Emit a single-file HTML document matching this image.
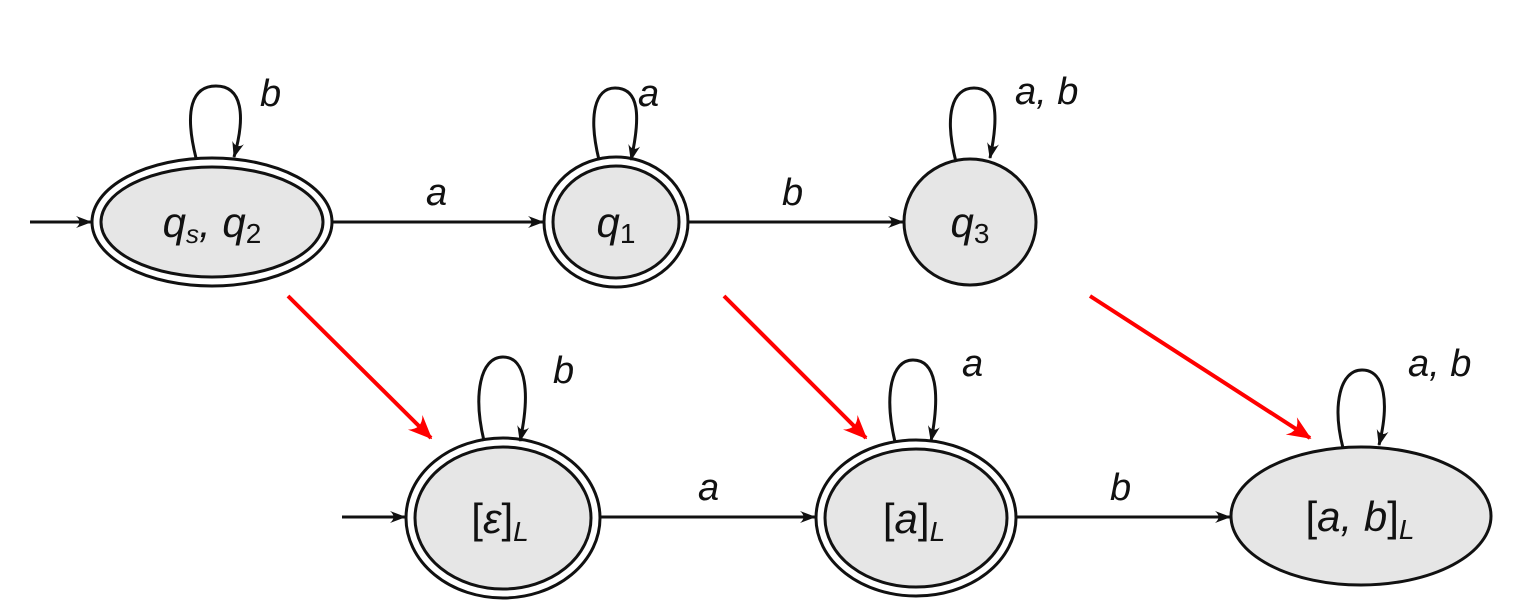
<!DOCTYPE html>
<html><head><meta charset="utf-8"><style>
html,body{margin:0;padding:0;background:#fff;}
svg{display:block;}
text{font-family:"Liberation Sans","DejaVu Sans",sans-serif;font-style:italic;fill:#111;}
</style></head><body>
<svg width="1536" height="600" viewBox="0 0 1536 600" xmlns="http://www.w3.org/2000/svg">
<defs>
<marker id="ah" viewBox="0 0 16 14" refX="15" refY="7" markerWidth="16" markerHeight="14" markerUnits="userSpaceOnUse" orient="auto">
<path d="M0,1 Q7,7 0,13 L16,7 Z" fill="#111"/></marker>
<marker id="rh" viewBox="0 0 14 14" refX="13" refY="7" markerWidth="24" markerHeight="24" markerUnits="userSpaceOnUse" orient="auto">
<path d="M0,1 Q6,7 0,13 L14,7 Z" fill="#f00"/></marker>
</defs>
<g stroke="#111" stroke-width="3">
<ellipse cx="212" cy="222" rx="120" ry="64" fill="#fff"/>
<ellipse cx="212" cy="222" rx="111" ry="55" fill="#e6e6e6"/>
<ellipse cx="616" cy="222" rx="72" ry="65" fill="#fff"/>
<ellipse cx="616" cy="222" rx="63" ry="56" fill="#e6e6e6"/>
<ellipse cx="970" cy="222" rx="66" ry="63" fill="#e6e6e6"/>
<ellipse cx="503" cy="518" rx="97" ry="80" fill="#fff"/>
<ellipse cx="503" cy="518" rx="88" ry="71" fill="#e6e6e6"/>
<ellipse cx="916" cy="518" rx="100" ry="78" fill="#fff"/>
<ellipse cx="916" cy="518" rx="91" ry="69" fill="#e6e6e6"/>
<ellipse cx="1361" cy="516" rx="130" ry="69" fill="#e6e6e6"/>
</g>
<g stroke="#111" stroke-width="3" fill="none" marker-end="url(#ah)">
<line x1="30" y1="222" x2="91" y2="222"/>
<line x1="333" y1="222" x2="543" y2="222"/>
<line x1="689" y1="222" x2="903" y2="222"/>
<line x1="342" y1="517" x2="405" y2="517"/>
<line x1="601" y1="517" x2="815" y2="517"/>
<line x1="1017" y1="517" x2="1230" y2="517"/>
<path d="M196,158 C184,110 192,86 216,86 C242,86 246,115 234,157"/>
<path d="M599,160 C588,115 595,88 615,88 C639,88 641,115 631,160"/>
<path d="M956,162 C944,115 952,88 974,88 C997,88 999,115 990,158"/>
<path d="M484,441 C473,395 480,357 503,357 C527,357 530,395 520,441"/>
<path d="M895,442 C884,395 891,360 913,360 C937,360 940,395 931,441"/>
<path d="M1343,448 C1332,405 1340,370 1362,370 C1386,370 1389,405 1379,445"/>
</g>
<g stroke="#f00" stroke-width="4" fill="none" marker-end="url(#rh)">
<line x1="288" y1="296" x2="431" y2="438"/>
<line x1="724" y1="296" x2="866" y2="438"/>
<line x1="1090" y1="296" x2="1310" y2="438"/>
</g>
<g font-size="38">
<text x="260" y="106">b</text>
<text x="638" y="106">a</text>
<text x="1015" y="104">a, b</text>
<text x="426" y="205">a</text>
<text x="782" y="205">b</text>
<text x="553" y="383">b</text>
<text x="962" y="376">a</text>
<text x="1408" y="376">a, b</text>
<text x="698" y="500">a</text>
<text x="1110" y="500">b</text>
</g>
<g font-size="42" text-anchor="middle">
<text x="212" y="237">q<tspan font-size="26" dy="6">s</tspan><tspan dy="-6">, q</tspan><tspan font-size="28" font-style="normal" dy="6">2</tspan></text>
<text x="616" y="237">q<tspan font-size="28" font-style="normal" dy="6">1</tspan></text>
<text x="970" y="237">q<tspan font-size="28" font-style="normal" dy="6">3</tspan></text>
<text x="500" y="533"><tspan font-style="normal">[</tspan>ε<tspan font-style="normal">]</tspan><tspan font-size="28" dy="8">L</tspan></text>
<text x="914" y="533"><tspan font-style="normal">[</tspan>a<tspan font-style="normal">]</tspan><tspan font-size="28" dy="8">L</tspan></text>
<text x="1360" y="531"><tspan font-style="normal">[</tspan>a, b<tspan font-style="normal">]</tspan><tspan font-size="28" dy="8">L</tspan></text>
</g>
</svg>
</body></html>
